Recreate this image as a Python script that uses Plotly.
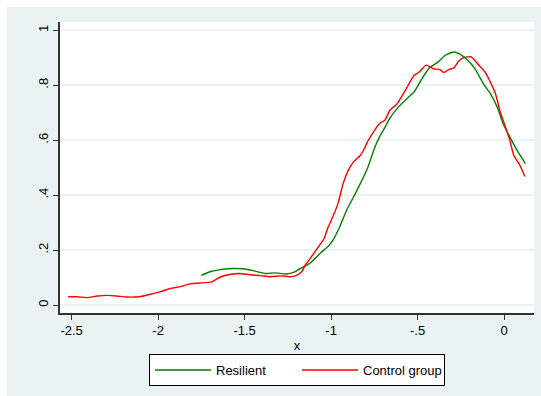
import plotly.graph_objects as go

# Control group (red) curve
control_x = [-2.52, -2.47, -2.41, -2.35, -2.29, -2.24, -2.18, -2.10, -2.04, -1.99,
             -1.93, -1.87, -1.81, -1.76, -1.69, -1.64, -1.58, -1.53, -1.47, -1.41,
             -1.35, -1.29, -1.24, -1.20, -1.17, -1.15, -1.12, -1.10, -1.08, -1.04,
             -1.02, -0.99, -0.96, -0.93, -0.90, -0.87, -0.83, -0.81, -0.79, -0.76,
             -0.72, -0.69, -0.66, -0.62, -0.57, -0.52, -0.49, -0.45, -0.41, -0.37,
             -0.35, -0.32, -0.29, -0.26, -0.23, -0.19, -0.17, -0.15, -0.11, -0.08,
             -0.05, -0.025, 0.004, 0.033, 0.056, 0.091, 0.12]
control_y = [0.030, 0.030, 0.027, 0.033, 0.035, 0.033, 0.029, 0.031, 0.040, 0.048,
             0.060, 0.067, 0.078, 0.080, 0.084, 0.102, 0.112, 0.115, 0.110, 0.107,
             0.103, 0.106, 0.103, 0.108, 0.121, 0.145, 0.170, 0.188, 0.206, 0.242,
             0.279, 0.321, 0.370, 0.442, 0.491, 0.521, 0.545, 0.566, 0.594, 0.625,
             0.661, 0.672, 0.709, 0.731, 0.782, 0.836, 0.848, 0.873, 0.860, 0.857,
             0.846, 0.857, 0.863, 0.889, 0.901, 0.903, 0.891, 0.876, 0.848, 0.812,
             0.770, 0.709, 0.655, 0.600, 0.545, 0.509, 0.468]

# Resilient (green) curve
resilient_x = [-1.75, -1.70, -1.64, -1.56, -1.51, -1.45, -1.38, -1.32, -1.26, -1.21,
               -1.16, -1.12, -1.06, -1.01, -0.99, -0.95, -0.91, -0.85, -0.79, -0.75,
               -0.72, -0.69, -0.66, -0.61, -0.56, -0.52, -0.48, -0.43, -0.38, -0.34,
               -0.29, -0.26, -0.21, -0.17, -0.12, -0.08, -0.04, -0.006, 0.033, 0.081, 0.123]
resilient_y = [0.108, 0.121, 0.129, 0.133, 0.132, 0.125, 0.115, 0.117, 0.113, 0.121,
               0.139, 0.153, 0.190, 0.218, 0.235, 0.285, 0.345, 0.418, 0.497, 0.570,
               0.612, 0.645, 0.680, 0.721, 0.752, 0.776, 0.818, 0.864, 0.885, 0.909,
               0.921, 0.915, 0.891, 0.861, 0.806, 0.770, 0.721, 0.661, 0.612, 0.557, 0.515]

x_ticks = [-2.5, -2, -1.5, -1, -0.5, 0]
x_tick_labels = ["-2.5", "-2", "-1.5", "-1", "-.5", "0"]
y_ticks = [0, 0.2, 0.4, 0.6, 0.8, 1]
y_tick_labels = ["0", ".2", ".4", ".6", ".8", "1"]

BG = "#EAF2F3"
FONT = "Liberation Sans, Arial, sans-serif"

fig = go.Figure()
fig.add_trace(go.Scatter(x=resilient_x, y=resilient_y, mode="lines", name="Resilient",
                         line=dict(color="#008000", width=1.4, shape="spline", smoothing=0.6)))
fig.add_trace(go.Scatter(x=control_x, y=control_y, mode="lines", name="Control group",
                         line=dict(color="#FF0000", width=1.4, shape="spline", smoothing=0.6)))

W, H = 541, 396
ml, mr, mt, mb = 60, 7, 22, 83
pw, ph = W - ml - mr, H - mt - mb

def px_x(p):
    return (p - ml) / pw

def px_y(p):
    return (H - mb - p) / ph

# white strips on left and top edges (outer image border)
fig.add_shape(type="rect", xref="paper", yref="paper",
              x0=px_x(0), x1=px_x(7), y0=px_y(H), y1=px_y(0),
              fillcolor="white", line_width=0, layer="below")
fig.add_shape(type="rect", xref="paper", yref="paper",
              x0=px_x(0), x1=px_x(W), y0=px_y(7), y1=px_y(0),
              fillcolor="white", line_width=0, layer="below")

fig.update_layout(
    width=W, height=H,
    margin=dict(l=ml, r=mr, t=mt, b=mb),
    paper_bgcolor=BG,
    plot_bgcolor="white",
    font=dict(family=FONT, size=13, color="black"),
    showlegend=True,
    legend=dict(orientation="h", x=0.5, xanchor="center", y=px_y(354), yanchor="top",
                bgcolor="white", bordercolor="black", borderwidth=1,
                font=dict(size=13), itemwidth=56,
                entrywidth=76, entrywidthmode="pixels"),
    xaxis=dict(range=[-2.567, 0.173], tickvals=x_ticks, ticktext=x_tick_labels,
               showgrid=False, zeroline=False, showline=True, linecolor="#333333",
               linewidth=1.5, ticks="outside", ticklen=5, tickcolor="#333333",
               tickwidth=1.2, tickfont=dict(size=13),
               title=dict(text="x", font=dict(size=13), standoff=4)),
    yaxis=dict(range=[-0.029, 1.030], tickvals=y_ticks, ticktext=y_tick_labels,
               showgrid=True, gridcolor=BG, gridwidth=1.5, zeroline=False,
               showline=True, linecolor="#333333", linewidth=1.5,
               ticks="outside", ticklen=5, tickcolor="#333333", tickwidth=1.2,
               tickangle=-90, tickfont=dict(size=13)),
)

fig.write_html("out.html")
